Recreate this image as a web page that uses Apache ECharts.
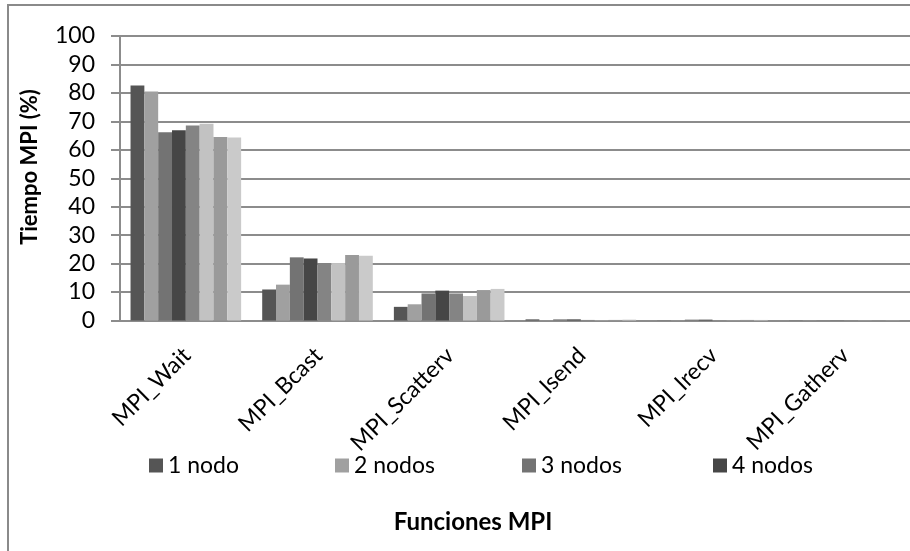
<!DOCTYPE html>
<html>
<head>
<meta charset="utf-8">
<script src="https://cdn.jsdelivr.net/npm/echarts@6/dist/echarts.min.js"></script>
<style>
html,body{margin:0;padding:0;background:#fff;}
#c{width:910px;height:551px;}
</style>
</head>
<body>
<div id="c"></div>
<script>
const categories = ["MPI_Wait", "MPI_Bcast", "MPI_Scatterv", "MPI_Isend", "MPI_Irecv", "MPI_Gatherv"];
const seriesNames = ["1 nodo", "2 nodos", "3 nodos", "4 nodos", "5 nodos", "6 nodos", "7 nodos", "8 nodos"];
const legendNames = ["1 nodo", "2 nodos", "3 nodos", "4 nodos"];
const s1 = [82.6, 10.9, 4.8, 0.4, 0.05, 0.05];
const s2 = [80.5, 12.6, 5.7, 0.05, 0.05, 0.05];
const s3 = [66.2, 22.2, 9.5, 0.4, 0.3, 0.05];
const s4 = [66.9, 21.8, 10.5, 0.4, 0.3, 0.05];
const s5 = [68.5, 20.2, 9.5, 0.2, 0.05, 0.05];
const s6 = [69.2, 20.2, 8.6, 0.1, 0.05, 0.05];
const s7 = [64.5, 23.0, 10.7, 0.2, 0.2, 0.05];
const s8 = [64.3, 22.8, 11.1, 0.3, 0.2, 0.05];
const yTicks = [0, 10, 20, 30, 40, 50, 60, 70, 80, 90, 100];

const allSeries = [s1, s2, s3, s4, s5, s6, s7, s8];
const colors = ["#555555", "#a0a0a0", "#737373", "#464646", "#848484", "#c2c2c2", "#9a9a9a", "#cacaca"];
const FONT = "Lato";
const legendLefts = [149, 335, 522, 713];

const chart = echarts.init(document.getElementById('c'), null, {renderer: 'canvas'});
chart.setOption({
  animation: false,
  backgroundColor: '#ffffff',
  textStyle: {fontFamily: FONT, color: '#000'},
  grid: {left: 120, top: 36, width: 796, height: 284.5, containLabel: false},
  legend: legendNames.map((n, i) => ({
    data: [n],
    left: legendLefts[i], top: 454,
    padding: 0,
    itemWidth: 14, itemHeight: 14, itemTextGap: 7,
    icon: 'rect',
    textStyle: {fontFamily: FONT, fontSize: 23, color: '#000'}
  })),
  xAxis: {
    type: 'category',
    data: categories,
    axisLine: {show: true, lineStyle: {color: '#8c8c8c', width: 2}},
    axisTick: {show: false},
    axisLabel: {
      rotate: 45, interval: 0, margin: 16,
      fontFamily: FONT, fontSize: 23, color: '#000',
      align: 'right', verticalAlign: 'top', padding: [0, 10, 0, 0]
    },
    splitLine: {show: false}
  },
  yAxis: {
    type: 'value',
    min: yTicks[0], max: yTicks[yTicks.length - 1], interval: 10,
    axisLine: {show: true, lineStyle: {color: '#8c8c8c', width: 2}},
    axisTick: {show: true, inside: false, length: 9, lineStyle: {color: '#8c8c8c', width: 2}},
    axisLabel: {margin: 25, fontFamily: FONT, fontSize: 23, color: '#000'},
    splitLine: {show: true, lineStyle: {color: '#8c8c8c', width: 2}}
  },
  series: allSeries.map((d, i) => ({
    name: seriesNames[i],
    type: 'bar',
    data: d,
    barGap: '0%',
    barCategoryGap: '16%',
    itemStyle: {color: colors[i]}
  })),
  graphic: [
    {type: 'rect', shape: {x: 8, y: 5, width: 940, height: 600}, style: {fill: 'none', stroke: '#8a8a8a', lineWidth: 2}, silent: true, z: -1},
    {type: 'text', x: 30, y: 167, rotation: Math.PI / 2,
     style: {text: 'Tiempo MPI (%)', font: 'bold 22px ' + FONT, fill: '#000', textAlign: 'center', textVerticalAlign: 'middle'}},
    {type: 'text', x: 473, y: 522,
     style: {text: 'Funciones MPI', font: 'bold 24px ' + FONT, fill: '#000', textAlign: 'center', textVerticalAlign: 'middle'}}
  ]
});
</script>
</body>
</html>
